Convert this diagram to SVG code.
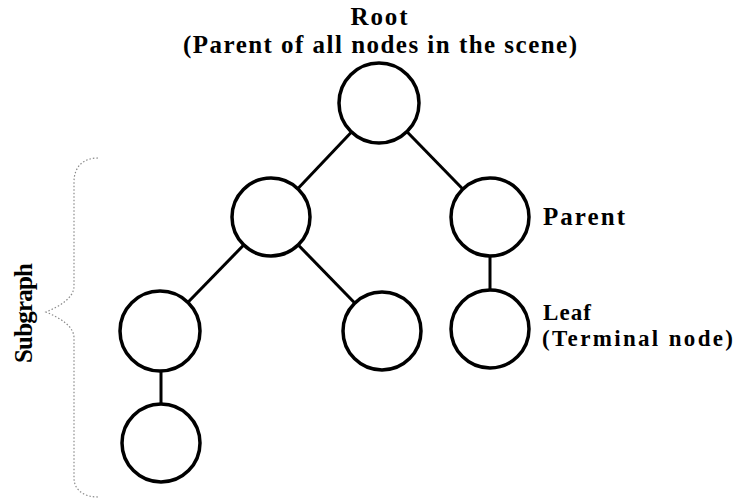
<svg xmlns="http://www.w3.org/2000/svg" width="736" height="501" viewBox="0 0 736 501">
  <style>
    .node { fill: #ffffff; stroke: #000000; stroke-width: 3.5; }
    .edge { stroke: #000000; stroke-width: 3; fill: none; }
    .label { font-family: "Liberation Serif", "Times New Roman", serif; font-weight: bold; font-size: 25px; fill: #000000; }
    .small { font-size: 23px; }
    .brace { fill: none; stroke: #8a8a8a; stroke-width: 1.2; stroke-dasharray: 1.5 2; }
  </style>
  <rect width="736" height="501" fill="#ffffff"/>

  <!-- tree edges -->
  <g id="connectors">
    <line class="edge" x1="379" y1="103" x2="271" y2="217"/>
    <line class="edge" x1="379" y1="103" x2="490" y2="217"/>
    <line class="edge" x1="271" y1="217" x2="160" y2="331"/>
    <line class="edge" x1="271" y1="217" x2="382" y2="331"/>
    <line class="edge" x1="490" y1="217" x2="490" y2="329"/>
    <line class="edge" x1="161" y1="331" x2="161" y2="443"/>
  </g>

  <g id="root">
    <circle class="node" cx="379" cy="103" r="40"/>
    <text class="label" x="379" y="25" text-anchor="middle" textLength="57">Root</text>
    <text class="label" x="380" y="53" text-anchor="middle" textLength="394">(Parent of all nodes in the scene)</text>
  </g>
  <g id="node-left">
    <circle class="node" cx="271" cy="217" r="39"/>
  </g>
  <g id="node-parent">
    <circle class="node" cx="490" cy="217" r="39"/>
    <text class="label" x="543" y="225" textLength="82">Parent</text>
  </g>
  <g id="node-left-left">
    <circle class="node" cx="160" cy="331" r="40"/>
  </g>
  <g id="node-left-right">
    <circle class="node" cx="382" cy="331" r="39"/>
  </g>
  <g id="node-leaf">
    <circle class="node" cx="490" cy="329" r="39"/>
    <text class="label small" x="543" y="320" textLength="48">Leaf</text>
    <text class="label small" x="542" y="346" textLength="191">(Terminal node)</text>
  </g>
  <g id="node-bottom">
    <circle class="node" cx="161" cy="443" r="39"/>
  </g>

  <!-- subgraph bracket and caption -->
  <g id="subgraph">
    <path class="brace" d="M 98 158 C 84 158 74 166 74 182 L 74 286 C 74 298 60 306 46 312 C 60 318 74 326 74 338 L 74 478 C 74 490 84 497 98 497"/>
    <text class="label" transform="translate(32 313) rotate(-90)" text-anchor="middle" textLength="100">Subgraph</text>
  </g>
</svg>
